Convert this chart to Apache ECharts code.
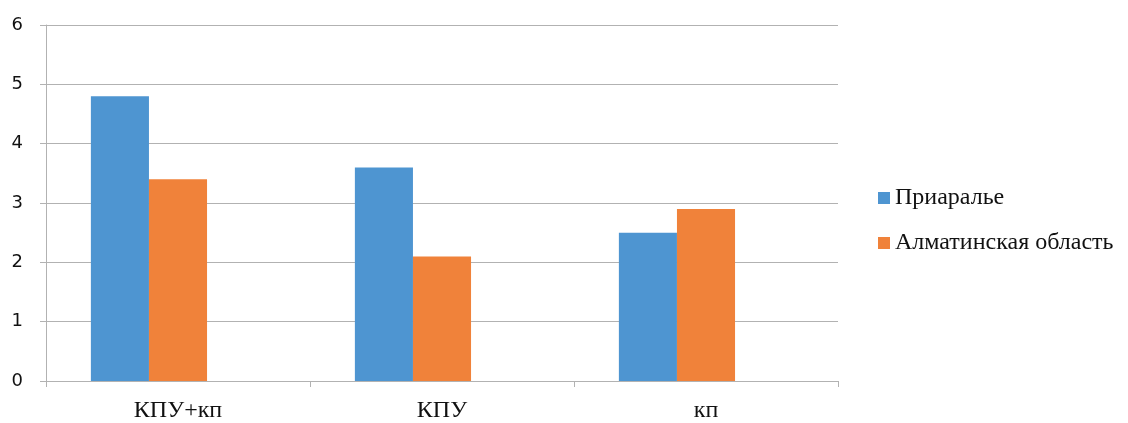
<!DOCTYPE html>
<html>
<head>
<meta charset="utf-8">
<script src="https://cdn.jsdelivr.net/npm/echarts@6/dist/echarts.min.js"></script>
<style>
  html, body { margin: 0; padding: 0; background: #fff; }
  #chart { width: 1128px; height: 423px; }
</style>
</head>
<body>
<div id="chart"></div>
<script>
// Categories along the x axis
const categories = ['КПУ+кп', 'КПУ', 'кп'];
// Series names
const seriesNames = ['Приаралье', 'Алматинская область'];
// Values per series
const priaralye = [4.8, 3.6, 2.5];
const almaty = [3.4, 2.1, 2.9];
// Y axis range
const yMin = 0;
const yMax = 6;
const yStep = 1;

const colors = ['#4E95D1', '#F0823A', '#ffffff'];
const gridColor = '#B2B2B2';
const barStyle = { barGap: '0%', barCategoryGap: '34%' };

const chart = echarts.init(document.getElementById('chart'));
chart.setOption({
  animation: false,
  backgroundColor: '#ffffff',
  color: colors,
  grid: { left: 46, right: 290, top: 25, bottom: 41, containLabel: false },
  legend: {
    orient: 'vertical',
    left: 878,
    top: 186,
    padding: 0,
    itemWidth: 12,
    itemHeight: 12,
    itemGap: 21,
    icon: 'rect',
    textStyle: { fontFamily: 'Liberation Serif', fontSize: 24, color: '#111' },
    data: seriesNames
  },
  xAxis: {
    type: 'category',
    data: categories,
    axisLine: { show: true, lineStyle: { color: gridColor, width: 1 } },
    axisTick: { show: true, length: 6, lineStyle: { color: gridColor } },
    axisLabel: { fontFamily: 'Liberation Serif', fontSize: 24, color: '#111', margin: 18 }
  },
  yAxis: {
    type: 'value',
    min: yMin,
    max: yMax,
    interval: yStep,
    axisLine: { show: true, lineStyle: { color: gridColor, width: 1 } },
    axisTick: { show: true, length: 6, lineStyle: { color: gridColor } },
    axisLabel: { fontFamily: 'DejaVu Sans', fontSize: 18, color: '#111', margin: 23 },
    splitLine: { show: true, lineStyle: { color: gridColor, width: 1 } }
  },
  series: [
    Object.assign({ name: seriesNames[0], type: 'bar', data: priaralye }, barStyle),
    Object.assign({ name: seriesNames[1], type: 'bar', data: almaty }, barStyle),
    // empty third slot in each group keeps the two bars left of centre
    Object.assign({ name: '', type: 'bar', data: [], silent: true }, barStyle)
  ]
});
</script>
</body>
</html>
